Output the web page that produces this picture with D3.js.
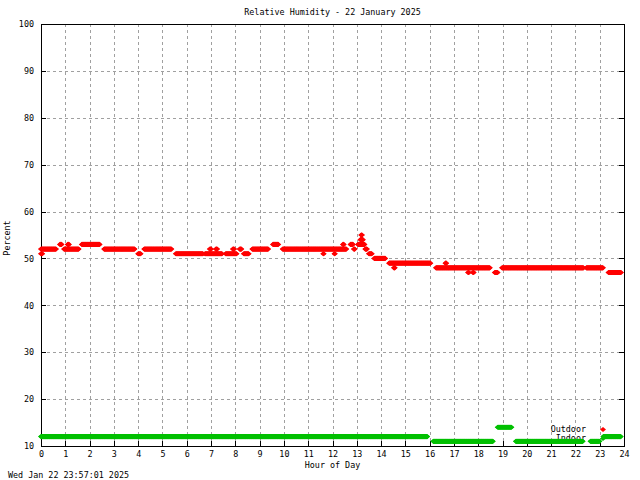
<!DOCTYPE html>
<html><head><meta charset="utf-8">
<script src="https://cdn.jsdelivr.net/npm/d3@7"></script>
<style>body{margin:0;background:#fff}svg{display:block}text{font-family:"DejaVu Sans Mono",monospace;font-size:8.4px;fill:#000}</style>
</head><body><svg id="c" width="640" height="480"></svg>
<script>
// ---- data (runs of constant value: [startHour, endHour, percent]) ----
const title = "Relative Humidity - 22 January 2025";
const xLabel = "Hour of Day";
const yLabel = "Percent";
const stamp = "Wed Jan 22 23:57:01 2025";
const xTicks = d3.range(0, 25);
const yTicks = [10,20,30,40,50,60,70,80,90,100];
const seriesNames = ["Outdoor", "Indoor"];
const seriesColors = ["#ff0000", "#00c000"];
const outdoorRuns = [
  [0.00,0.05,51],[0.00,0.62,52],[0.78,0.85,53],[0.95,1.55,52],[1.10,1.15,53],
  [1.68,2.42,53],[2.60,3.86,52],[4.00,4.10,51],[4.25,5.37,52],[5.55,6.68,51],
  [6.75,7.45,51],[6.95,7.00,52],[7.20,7.25,52],[7.60,8.05,51],[7.90,7.95,52],
  [8.18,8.25,52],[8.35,8.55,51],[8.70,9.35,52],[9.55,9.78,53],[9.95,12.58,52],
  [11.62,11.65,51],[12.08,12.10,51],[12.43,12.47,53],[12.74,12.84,53],[12.88,12.92,52],
  [13.15,13.25,54],[13.18,13.22,55],[13.05,13.32,53],[13.35,13.42,52],[13.50,13.62,51],
  [13.72,14.18,50],[14.33,16.03,49],[14.53,14.57,48],[16.26,18.48,48],[16.65,16.69,49],
  [17.58,17.62,47],[17.78,17.82,47],[18.68,18.80,47],[18.98,22.33,48],[22.45,23.14,48],
  [23.36,23.88,47]
];
const indoorRuns = [
  [0.00,15.90,12],[16.15,18.60,11],[18.80,19.37,14],[19.55,22.30,11],
  [22.62,22.99,11],[23.15,23.88,12]
];

// expand runs into 1-minute samples
function expand(runs){
  const pts=[];
  runs.forEach(([a,b,v])=>{
    for(let t=a;t<=b+1e-9;t+=1/60) pts.push({h:t,v:v});
  });
  return pts;
}
const outdoor = expand(outdoorRuns);
const indoor = expand(indoorRuns);

const L=41, R=624, T=24, B=446;
const x = d3.scaleLinear().domain([0,24]).range([L,R]);
const y = d3.scaleLinear().domain([10,100]).range([B,T]);
const svg = d3.select("#c");

// grid
const g = svg.append("g").attr("stroke","#a0a0a0").attr("stroke-width",1).attr("stroke-dasharray","3,3").attr("shape-rendering","crispEdges");
xTicks.slice(1,-1).forEach(t=>g.append("line").attr("x1",Math.round(x(t))+0.5).attr("x2",Math.round(x(t))+0.5).attr("y1",T).attr("y2",B));
yTicks.slice(1,-1).forEach(t=>g.append("line").attr("y1",Math.round(y(t))+0.5).attr("y2",Math.round(y(t))+0.5).attr("x1",L).attr("x2",R));

// axes via d3
const ax = svg.append("g").attr("transform",`translate(0,${B})`)
  .call(d3.axisBottom(x).tickValues(xTicks).tickFormat(d3.format("d")).tickSize(-5).tickPadding(8));
const ay = svg.append("g").attr("transform",`translate(${L},0)`)
  .call(d3.axisLeft(y).tickValues(yTicks).tickFormat(d3.format("d")).tickSize(-5).tickPadding(7));
const ay2 = svg.append("g").attr("transform",`translate(${R},0)`)
  .call(d3.axisRight(y).tickValues(yTicks).tickFormat("").tickSize(-5));
[ax,ay,ay2].forEach(a=>{a.select(".domain").remove();a.selectAll("line").attr("stroke","#000").attr("shape-rendering","crispEdges");a.selectAll("text").attr("font-family",null).attr("font-size",null);});
ax.selectAll("text").attr("dy","0.35em");

// frame
svg.append("rect").attr("x",L+0.5).attr("y",T+0.5).attr("width",R-L).attr("height",B-T)
  .attr("fill","none").attr("stroke","#000").attr("shape-rendering","crispEdges");

// texts
svg.append("text").attr("x",(L+R)/2).attr("y",12).attr("text-anchor","middle").attr("dy","0.35em").text(title);
svg.append("text").attr("x",(L+R)/2).attr("y",465).attr("text-anchor","middle").attr("dy","0.35em").text(xLabel);
svg.append("text").attr("transform","translate(7,238) rotate(-90)").attr("text-anchor","middle").attr("dy","0.35em").text(yLabel);
svg.append("text").attr("x",8).attr("y",475).attr("dy","0.35em").text(stamp);

const diamond = "M0,-2.6L3,0L0,2.6L-3,0Z";
function drawSeries(pts, color, name, ky){
  svg.append("text").attr("x",586).attr("y",ky).attr("text-anchor","end").attr("dy","0.35em").text(name);
  svg.append("path").attr("d",diamond).attr("transform",`translate(603,${ky})`).attr("fill",color);
  svg.append("g").selectAll("path").data(pts).join("path")
    .attr("d",diamond).attr("transform",d=>`translate(${x(d.h)},${y(d.v)})`).attr("fill",color);
}
drawSeries(outdoor, seriesColors[0], seriesNames[0], 429.5);
drawSeries(indoor, seriesColors[1], seriesNames[1], 438.5);
</script></body></html>
